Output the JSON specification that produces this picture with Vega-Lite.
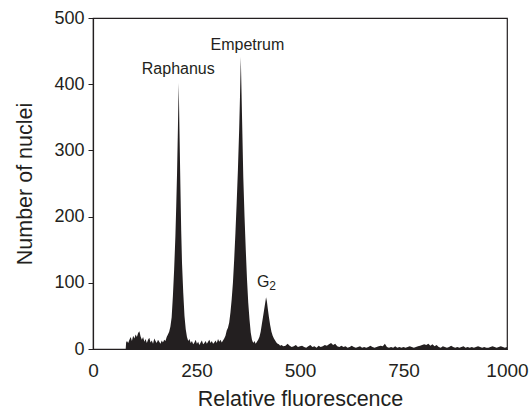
{
  "$schema": "https://vega.github.io/schema/vega-lite/v6.json",
  "width": 414,
  "height": 331,
  "autosize": {"type": "none"},
  "padding": {"left": 93, "top": 18, "right": 25, "bottom": 62},
  "background": "white",
  "config": {
    "font": "Liberation Sans",
    "view": {"stroke": "#231f20", "strokeWidth": 1.2},
    "axis": {
      "grid": false,
      "domainColor": "#231f20",
      "domainWidth": 1.2,
      "tickColor": "#231f20",
      "labelColor": "#231f20",
      "titleColor": "#231f20",
      "labelFont": "Liberation Sans",
      "titleFont": "Liberation Sans",
      "titleFontSize": 21.5,
      "titleFontWeight": "normal"
    }
  },
  "datasets": {
    "hist": [
      {"x": 79, "n": 0}, {"x": 80, "n": 10}, {"x": 82, "n": 12}, {"x": 85, "n": 9}, {"x": 88, "n": 14}, {"x": 91, "n": 18}, {"x": 94, "n": 12}, {"x": 97, "n": 20}, {"x": 100, "n": 16}, {"x": 103, "n": 22}, {"x": 106, "n": 18}, {"x": 109, "n": 24}, {"x": 112, "n": 27}, {"x": 115, "n": 19}, {"x": 118, "n": 14}, {"x": 121, "n": 18}, {"x": 124, "n": 11}, {"x": 127, "n": 15}, {"x": 130, "n": 9}, {"x": 133, "n": 14}, {"x": 136, "n": 17}, {"x": 139, "n": 10}, {"x": 142, "n": 13}, {"x": 145, "n": 8}, {"x": 148, "n": 16}, {"x": 151, "n": 12}, {"x": 154, "n": 9}, {"x": 157, "n": 14}, {"x": 160, "n": 11}, {"x": 163, "n": 8}, {"x": 166, "n": 13}, {"x": 169, "n": 10}, {"x": 172, "n": 14}, {"x": 175, "n": 12}, {"x": 178, "n": 18}, {"x": 181, "n": 22}, {"x": 184, "n": 26}, {"x": 187, "n": 34}, {"x": 190, "n": 48}, {"x": 193, "n": 80}, {"x": 196, "n": 120}, {"x": 199, "n": 170}, {"x": 201, "n": 215}, {"x": 203, "n": 265}, {"x": 205, "n": 330}, {"x": 207, "n": 402}, {"x": 209, "n": 325}, {"x": 211, "n": 250}, {"x": 213, "n": 180}, {"x": 215, "n": 130}, {"x": 218, "n": 85}, {"x": 221, "n": 50}, {"x": 224, "n": 30}, {"x": 227, "n": 18}, {"x": 230, "n": 12}, {"x": 233, "n": 15}, {"x": 236, "n": 9}, {"x": 239, "n": 12}, {"x": 242, "n": 7}, {"x": 245, "n": 10}, {"x": 248, "n": 14}, {"x": 251, "n": 8}, {"x": 254, "n": 11}, {"x": 257, "n": 6}, {"x": 260, "n": 10}, {"x": 263, "n": 13}, {"x": 266, "n": 7}, {"x": 269, "n": 9}, {"x": 272, "n": 12}, {"x": 275, "n": 8}, {"x": 278, "n": 11}, {"x": 281, "n": 14}, {"x": 284, "n": 9}, {"x": 287, "n": 12}, {"x": 290, "n": 8}, {"x": 293, "n": 10}, {"x": 296, "n": 13}, {"x": 299, "n": 9}, {"x": 302, "n": 15}, {"x": 305, "n": 11}, {"x": 308, "n": 14}, {"x": 311, "n": 10}, {"x": 314, "n": 13}, {"x": 317, "n": 16}, {"x": 320, "n": 20}, {"x": 323, "n": 28}, {"x": 326, "n": 32}, {"x": 329, "n": 40}, {"x": 332, "n": 55}, {"x": 335, "n": 75}, {"x": 338, "n": 100}, {"x": 341, "n": 135}, {"x": 344, "n": 175}, {"x": 347, "n": 220}, {"x": 350, "n": 270}, {"x": 353, "n": 330}, {"x": 355, "n": 380}, {"x": 357, "n": 441}, {"x": 359, "n": 380}, {"x": 361, "n": 320}, {"x": 363, "n": 260}, {"x": 366, "n": 200}, {"x": 369, "n": 150}, {"x": 372, "n": 105}, {"x": 375, "n": 70}, {"x": 378, "n": 45}, {"x": 381, "n": 25}, {"x": 384, "n": 14}, {"x": 387, "n": 9}, {"x": 390, "n": 12}, {"x": 393, "n": 8}, {"x": 396, "n": 11}, {"x": 399, "n": 14}, {"x": 402, "n": 18}, {"x": 405, "n": 26}, {"x": 408, "n": 38}, {"x": 411, "n": 50}, {"x": 414, "n": 62}, {"x": 416, "n": 70}, {"x": 418, "n": 78}, {"x": 420, "n": 72}, {"x": 422, "n": 62}, {"x": 425, "n": 48}, {"x": 428, "n": 36}, {"x": 431, "n": 26}, {"x": 434, "n": 20}, {"x": 437, "n": 16}, {"x": 440, "n": 13}, {"x": 443, "n": 10}, {"x": 446, "n": 8}, {"x": 449, "n": 7}, {"x": 452, "n": 5},
      {"x": 455, "n": 6}, {"x": 460, "n": 4}, {"x": 465, "n": 5}, {"x": 470, "n": 8}, {"x": 475, "n": 5}, {"x": 480, "n": 3}, {"x": 485, "n": 4}, {"x": 490, "n": 6}, {"x": 495, "n": 3}, {"x": 500, "n": 4}, {"x": 505, "n": 5}, {"x": 510, "n": 3}, {"x": 515, "n": 2}, {"x": 520, "n": 4}, {"x": 525, "n": 6}, {"x": 530, "n": 3}, {"x": 535, "n": 4}, {"x": 540, "n": 2}, {"x": 545, "n": 5}, {"x": 550, "n": 3}, {"x": 555, "n": 4}, {"x": 560, "n": 6}, {"x": 565, "n": 5}, {"x": 570, "n": 7}, {"x": 575, "n": 9}, {"x": 580, "n": 6}, {"x": 585, "n": 8}, {"x": 590, "n": 4}, {"x": 595, "n": 3}, {"x": 600, "n": 5}, {"x": 605, "n": 3}, {"x": 610, "n": 4}, {"x": 615, "n": 2}, {"x": 620, "n": 3}, {"x": 625, "n": 5}, {"x": 630, "n": 3}, {"x": 635, "n": 2}, {"x": 640, "n": 3}, {"x": 645, "n": 4}, {"x": 650, "n": 2}, {"x": 655, "n": 3}, {"x": 660, "n": 2}, {"x": 665, "n": 3}, {"x": 670, "n": 5}, {"x": 675, "n": 3}, {"x": 680, "n": 2}, {"x": 685, "n": 3}, {"x": 690, "n": 4}, {"x": 695, "n": 5}, {"x": 700, "n": 4}, {"x": 705, "n": 8}, {"x": 710, "n": 3}, {"x": 715, "n": 2}, {"x": 720, "n": 3}, {"x": 725, "n": 2}, {"x": 730, "n": 4}, {"x": 735, "n": 2}, {"x": 740, "n": 3}, {"x": 745, "n": 2}, {"x": 750, "n": 3}, {"x": 755, "n": 2}, {"x": 760, "n": 3}, {"x": 765, "n": 4}, {"x": 770, "n": 3}, {"x": 775, "n": 2}, {"x": 780, "n": 3}, {"x": 785, "n": 4}, {"x": 790, "n": 5}, {"x": 795, "n": 6}, {"x": 800, "n": 7}, {"x": 805, "n": 6}, {"x": 810, "n": 8}, {"x": 815, "n": 5}, {"x": 820, "n": 7}, {"x": 825, "n": 4}, {"x": 830, "n": 6}, {"x": 835, "n": 3}, {"x": 840, "n": 2}, {"x": 845, "n": 4}, {"x": 850, "n": 3}, {"x": 855, "n": 2}, {"x": 860, "n": 3}, {"x": 865, "n": 5}, {"x": 870, "n": 3}, {"x": 875, "n": 2}, {"x": 880, "n": 3}, {"x": 885, "n": 2}, {"x": 890, "n": 3}, {"x": 895, "n": 4}, {"x": 900, "n": 2}, {"x": 905, "n": 3}, {"x": 910, "n": 2}, {"x": 915, "n": 3}, {"x": 920, "n": 2}, {"x": 925, "n": 3}, {"x": 930, "n": 4}, {"x": 935, "n": 3}, {"x": 940, "n": 2}, {"x": 945, "n": 3}, {"x": 950, "n": 2}, {"x": 955, "n": 2}, {"x": 960, "n": 3}, {"x": 965, "n": 4}, {"x": 970, "n": 3}, {"x": 975, "n": 2}, {"x": 980, "n": 3}, {"x": 985, "n": 4}, {"x": 990, "n": 3}, {"x": 995, "n": 2}, {"x": 1000, "n": 3}
    ],
    "labels": [
      {"label": "Raphanus", "x": 206, "n": 423},
      {"label": "Empetrum", "x": 373, "n": 459},
      {"label": "G", "x": 411, "n": 101}
    ],
    "sub": [
      {"label": "2", "x": 434, "n": 95}
    ]
  },
  "layer": [
    {
      "data": {"name": "hist"},
      "mark": {"type": "area", "color": "#231f20", "interpolate": "linear"},
      "encoding": {
        "x": {"field": "x", "type": "quantitative", "scale": {"domain": [0, 1000], "nice": false},
              "axis": {"values": [0, 250, 500, 750, 1000], "format": "d", "title": "Relative fluorescence", "ticks": false, "labelFontSize": 19, "labelPadding": 12, "titlePadding": 8, "labelFlush": false}},
        "y": {"field": "n", "type": "quantitative", "scale": {"domain": [0, 500], "nice": false},
              "axis": {"values": [0, 100, 200, 300, 400, 500], "format": "d", "title": "Number of nuclei", "tickSize": 5, "labelFontSize": 18, "labelPadding": 4, "titlePadding": 17}}
      }
    },
    {
      "data": {"name": "labels"},
      "mark": {"type": "text", "fontSize": 16, "color": "#231f20", "baseline": "middle", "align": "center", "font": "Liberation Sans"},
      "encoding": {
        "x": {"field": "x", "type": "quantitative"},
        "y": {"field": "n", "type": "quantitative"},
        "text": {"field": "label"}
      }
    },
    {
      "data": {"name": "sub"},
      "mark": {"type": "text", "fontSize": 12, "color": "#231f20", "baseline": "middle", "align": "center", "font": "Liberation Sans"},
      "encoding": {
        "x": {"field": "x", "type": "quantitative"},
        "y": {"field": "n", "type": "quantitative"},
        "text": {"field": "label"}
      }
    }
  ]
}
